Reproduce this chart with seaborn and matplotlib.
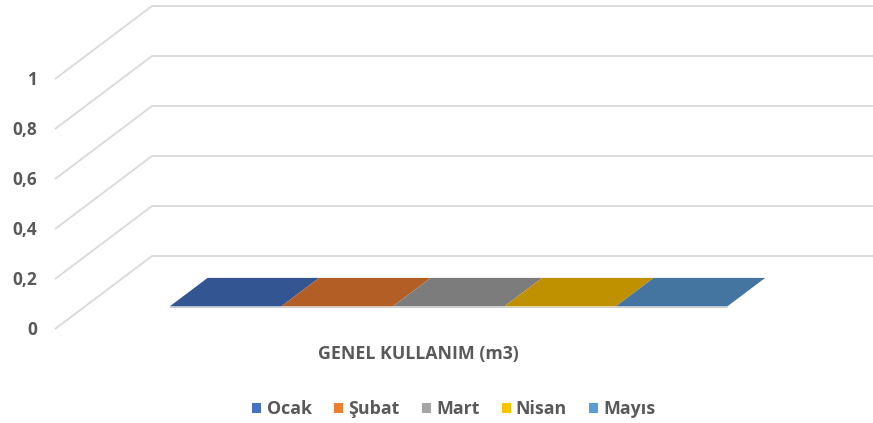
import matplotlib
matplotlib.use("Agg")
import matplotlib.pyplot as plt
import seaborn as sns
from matplotlib.patches import Polygon, Patch

sns.set_theme(style="white")
plt.rcParams['font.family'] = ['Open Sans', 'DejaVu Sans']

# data
category = "GENEL KULLANIM (m3)"
months = ["Ocak", "Şubat", "Mart", "Nisan", "Mayıs"]
values = [0, 0, 0, 0, 0]
y_ticks = [0, 0.2, 0.4, 0.6, 0.8, 1]
y_tick_labels = ["0", "0,2", "0,4", "0,6", "0,8", "1"]

colors = ["#4472C4", "#ED7D31", "#A5A5A5", "#FFC000", "#5B9BD5"]
text_color = "#595959"
grid_color = "#D9D9D9"
FS = 12.8

# oblique projection layout (pixels)
X0, X1 = 55, 782          # front edge of the floor
FLOOR_Y = 329
UNIT = 250                # pixels per 1.0
DX, DY = 97, -73          # depth offset front -> back wall
GAP = 0.1165              # gap on each side of the series group (fraction of slot)
D_FRONT, D_BACK = 0.31, 0.70


def proj(x, v, d):
    return (x + d * DX, FLOOR_Y - v * UNIT + d * DY)


def shade(hex_color, f):
    r, g, b = matplotlib.colors.to_rgb(hex_color)
    return (r * f, g * f, b * f)


fig = plt.figure(figsize=(8.73, 4.23), dpi=100)
ax = fig.add_axes([0, 0, 1, 1])
ax.set_xlim(0, 873)
ax.set_ylim(423, 0)
ax.axis("off")

# gridlines: diagonal on the side wall, then horizontal on the back wall
for t, lab in zip(y_ticks, y_tick_labels):
    fx, fy = proj(X0, t, 0)
    bx, by = proj(X0, t, 1)
    ax.plot([fx, bx, 900], [fy, by, by], color=grid_color, lw=1.3,
            solid_capstyle="butt", zorder=1)
    ax.text(37, fy + 1, lab, ha="right", va="center", fontsize=FS - 0.4,
            fontweight="bold", color=text_color)

# bars
slot = X1 - X0
g0 = X0 + GAP * slot
bw = (slot * (1 - 2 * GAP)) / len(months)
for i, (m, v) in enumerate(zip(months, values)):
    xl = g0 + i * bw
    xr = xl + bw
    # front face
    front = [proj(xl, 0, D_FRONT), proj(xr, 0, D_FRONT),
             proj(xr, v, D_FRONT), proj(xl, v, D_FRONT)]
    ax.add_patch(Polygon(front, closed=True, fc=colors[i], ec="none", zorder=3))
    # top face
    top = [proj(xl, v, D_FRONT), proj(xr, v, D_FRONT),
           proj(xr, v, D_BACK), proj(xl, v, D_BACK)]
    ax.add_patch(Polygon(top, closed=True, fc=shade(colors[i], 0.75),
                         ec="none", zorder=4))

# thin light edge under the bars
ax.plot([g0 + D_FRONT * DX, g0 + len(months) * bw + D_FRONT * DX],
        [FLOOR_Y + D_FRONT * DY + 0.8] * 2, color="#D0D0D0", lw=0.8, zorder=2)

# category label
ax.text(418, 354, category, ha="center", va="center",
        fontsize=FS, fontweight="bold", color=text_color)

# legend
handles = [Patch(facecolor=c, edgecolor="none", label=m) for c, m in zip(colors, months)]
leg = ax.legend(handles=handles, loc="center", bbox_to_anchor=(454 / 873, 1 - 409 / 423),
                ncol=5, frameon=False, handlelength=0.5, handleheight=0.5,
                handletextpad=0.3, columnspacing=1.25,
                prop={"size": FS, "weight": "bold"})
for txt in leg.get_texts():
    txt.set_color(text_color)

fig.savefig("out.png", dpi=100)
